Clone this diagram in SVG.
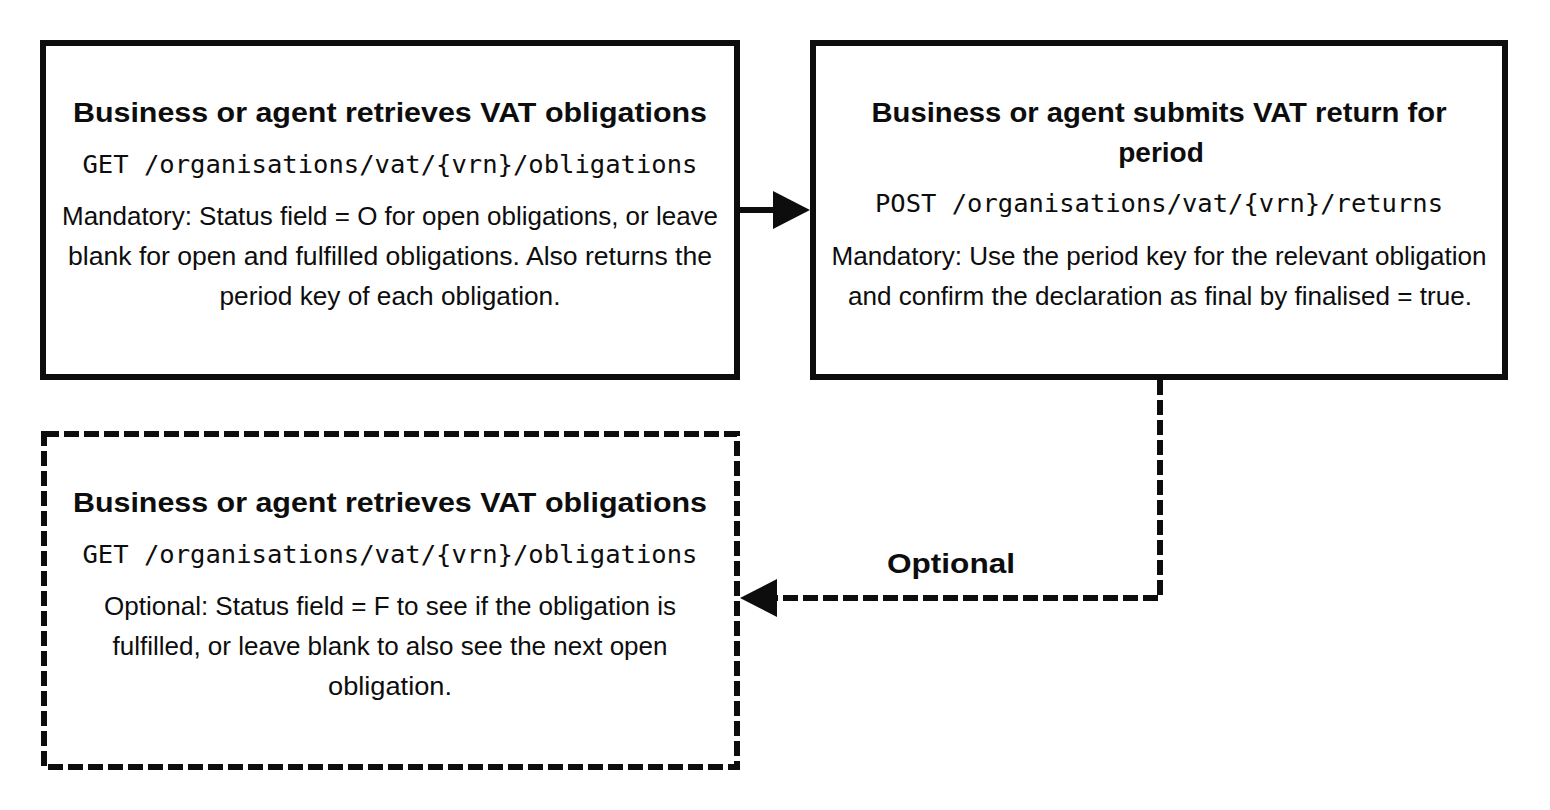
<svg xmlns="http://www.w3.org/2000/svg" width="1550" height="810" viewBox="0 0 1550 810">
<style>
.box{fill:#fff;stroke:#0d0d0d;stroke-width:6}
.dash{stroke-dasharray:15 5}
.t{font-family:"Liberation Sans",Arial,sans-serif;font-weight:bold;font-size:28px;fill:#0d0d0d;text-anchor:middle}
.m{font-family:"DejaVu Sans Mono","Liberation Mono",monospace;font-size:25px;fill:#0d0d0d;text-anchor:middle}
.b{font-family:"Liberation Sans",Arial,sans-serif;font-size:25px;fill:#0d0d0d;text-anchor:middle}
.line{fill:none;stroke:#0d0d0d;stroke-width:6}
.head{fill:#0d0d0d}
</style>
<rect width="1550" height="810" fill="#fff"/>
<g id="connectors">
<line class="line" x1="740" y1="210" x2="775" y2="210"/>
<polygon class="head" points="773,191 810,210 773,229"/>
<path class="line dash" d="M1160,380 V598 H777"/>
<polygon class="head" points="777,579 740,598 777,617"/>
<text class="t" x="951" y="573" textLength="128" lengthAdjust="spacingAndGlyphs">Optional</text>
</g>
<g id="node-retrieve">
<rect class="box" x="43" y="43" width="694" height="334"/>
<text class="t" x="390" y="122" textLength="634" lengthAdjust="spacingAndGlyphs">Business or agent retrieves VAT obligations</text>
<text class="m" x="390" y="173" textLength="615" lengthAdjust="spacingAndGlyphs">GET /organisations/vat/{vrn}/obligations</text>
<text class="b" x="390" y="225" textLength="656" lengthAdjust="spacingAndGlyphs">Mandatory: Status field = O for open obligations, or leave</text>
<text class="b" x="390" y="265" textLength="644" lengthAdjust="spacingAndGlyphs">blank for open and fulfilled obligations. Also returns the</text>
<text class="b" x="390" y="305" textLength="341" lengthAdjust="spacingAndGlyphs">period key of each obligation.</text>
</g>
<g id="node-submit">
<rect class="box" x="813" y="43" width="692" height="334"/>
<text class="t" x="1159" y="122" textLength="575" lengthAdjust="spacingAndGlyphs">Business or agent submits VAT return for</text>
<text class="t" x="1161" y="162">period</text>
<text class="m" x="1159" y="212" textLength="568" lengthAdjust="spacingAndGlyphs">POST /organisations/vat/{vrn}/returns</text>
<text class="b" x="1159" y="265" textLength="655" lengthAdjust="spacingAndGlyphs">Mandatory: Use the period key for the relevant obligation</text>
<text class="b" x="1160" y="305" textLength="624" lengthAdjust="spacingAndGlyphs">and confirm the declaration as final by finalised = true.</text>
</g>
<g id="node-optional">
<rect class="box dash" x="44" y="434" width="693" height="333"/>
<text class="t" x="390" y="512" textLength="634" lengthAdjust="spacingAndGlyphs">Business or agent retrieves VAT obligations</text>
<text class="m" x="390" y="563" textLength="615" lengthAdjust="spacingAndGlyphs">GET /organisations/vat/{vrn}/obligations</text>
<text class="b" x="390" y="615" textLength="572" lengthAdjust="spacingAndGlyphs">Optional: Status field = F to see if the obligation is</text>
<text class="b" x="390" y="655" textLength="555" lengthAdjust="spacingAndGlyphs">fulfilled, or leave blank to also see the next open</text>
<text class="b" x="390" y="695" textLength="124" lengthAdjust="spacingAndGlyphs">obligation.</text>
</g>
</svg>
